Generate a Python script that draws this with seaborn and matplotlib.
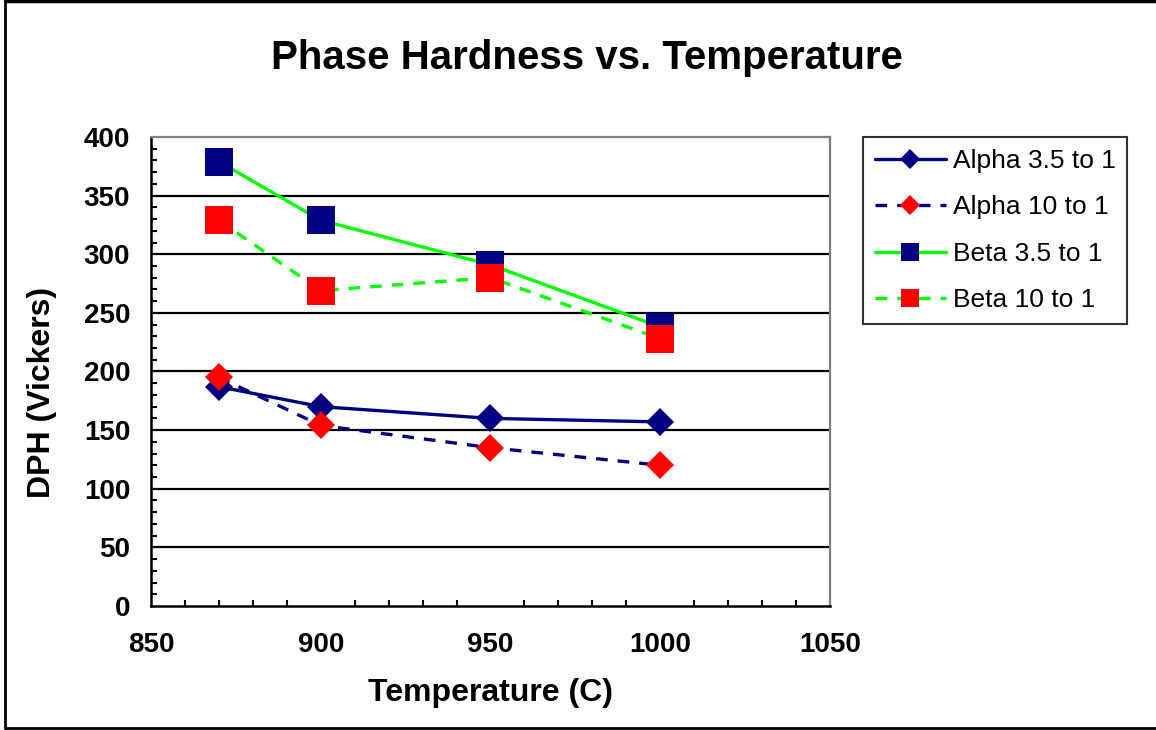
import numpy as np
import pandas as pd
import matplotlib
matplotlib.use("Agg")
import matplotlib.pyplot as plt
from matplotlib.lines import Line2D
from matplotlib.ticker import MultipleLocator
import seaborn as sns

# data
temperature = [870, 900, 950, 1000]
alpha_35 = [187, 170, 160, 157]
alpha_10 = [195, 154, 135, 120]
beta_35 = [379, 329, 291, 238]
beta_10 = [329, 269, 280, 228]

series_names = ["Alpha 3.5 to 1", "Alpha 10 to 1", "Beta 3.5 to 1", "Beta 10 to 1"]
series_values = [alpha_35, alpha_10, beta_35, beta_10]

NAVY = "#000080"
GREEN = "#00FF00"
RED = "#FF0000"
DASH = (0, (3.5, 3.0))

# line colour, marker, marker colour, line style, marker size
styles = [
    (NAVY, "D", NAVY, "-", 14),
    (NAVY, "D", RED, DASH, 14),
    (GREEN, "s", NAVY, "-", 19.5),
    (GREEN, "s", RED, DASH, 19.5),
]

sns.set_theme(style="white", rc={"text.color": "black", "axes.labelcolor": "black",
                                 "xtick.color": "black", "ytick.color": "black"})
plt.rcParams["font.family"] = ["Liberation Sans", "DejaVu Sans"]

fig = plt.figure(figsize=(11.56, 7.30), dpi=100)
ax = fig.add_axes([0.1306, 0.1699, 0.5874, 0.6424])

for name, vals, (lc, mk, mc, ls, ms) in zip(series_names, series_values, styles):
    df = pd.DataFrame({"temp": temperature, "dph": vals})
    sns.lineplot(data=df, x="temp", y="dph", ax=ax, color=lc, linewidth=2.4,
                 linestyle=ls, marker=mk, markersize=ms, markerfacecolor=mc,
                 markeredgecolor=mc, markeredgewidth=0, label=name)

ax.set_xlim(850, 1050)
ax.set_ylim(0, 400)
ax.xaxis.set_major_locator(MultipleLocator(50))
ax.xaxis.set_minor_locator(MultipleLocator(10))
ax.yaxis.set_major_locator(MultipleLocator(50))
ax.yaxis.set_minor_locator(MultipleLocator(10))

ax.grid(False)
for yv in range(50, 400, 50):
    ax.axhline(yv, color="black", lw=1.6, zorder=0.5)

ax.tick_params(axis="both", which="major", direction="out", length=7, width=1.5,
               color="black", labelsize=20, labelcolor="black")
ax.tick_params(axis="both", which="minor", direction="in", length=4, width=1.5,
               color="black", left=True, bottom=True)
ax.tick_params(axis="x", which="major", pad=12)
ax.tick_params(axis="y", which="major", pad=8)
for lab in ax.get_xticklabels() + ax.get_yticklabels():
    lab.set_fontweight("bold")

for side in ["left", "bottom"]:
    ax.spines[side].set_color("black")
    ax.spines[side].set_linewidth(1.8)
for side in ["top", "right"]:
    ax.spines[side].set_color("#808080")
    ax.spines[side].set_linewidth(1.6)

ax.set_xlabel("Temperature (C)", fontsize=23, fontweight="bold", labelpad=14,
              color="black")
ax.set_ylabel("")
fig.text(0.036, 0.463, "DPH (Vickers)", rotation=90, ha="center", va="center",
         fontsize=23, fontweight="bold", color="black")
fig.text(0.508, 0.92, "Phase Hardness vs. Temperature", ha="center", va="center",
         fontsize=29, fontweight="bold", color="black")

leg = ax.legend(loc="upper left", bbox_to_anchor=(0.7465, 0.8123),
                bbox_transform=fig.transFigure, fontsize=19, frameon=True,
                fancybox=False, borderpad=0.45, labelspacing=0.85,
                handlelength=2.7, handletextpad=0.25, markerscale=0.7,
                borderaxespad=0)
leg.get_frame().set_edgecolor("black")
leg.get_frame().set_linewidth(1.5)
for t in leg.get_texts():
    t.set_color("black")

# outer chart frame
fig.add_artist(Line2D([0.004, 0.004], [0.003, 0.999], transform=fig.transFigure,
                      color="black", lw=2))
fig.add_artist(Line2D([0.004, 1.0], [0.999, 0.999], transform=fig.transFigure,
                      color="black", lw=2.5))
fig.add_artist(Line2D([0.004, 1.0], [0.003, 0.003], transform=fig.transFigure,
                      color="black", lw=2))

fig.savefig("out.png", dpi=100, facecolor="white")
